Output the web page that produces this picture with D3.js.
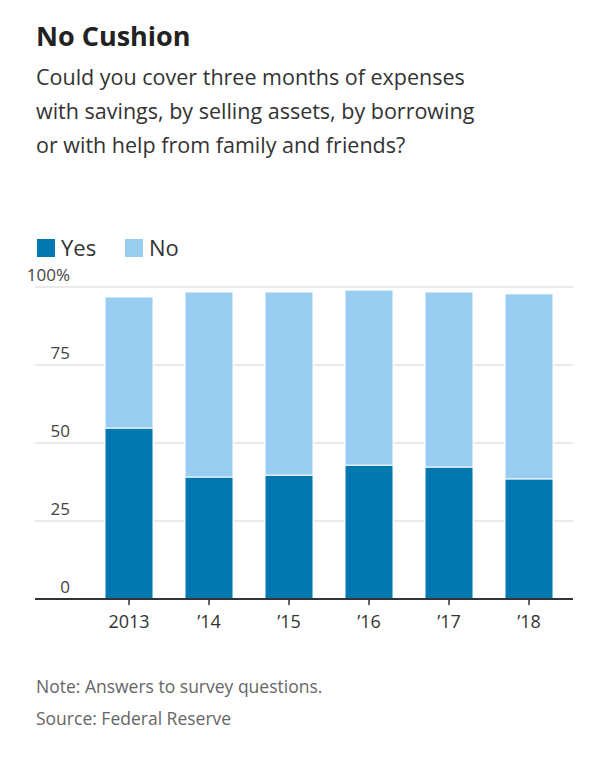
<!DOCTYPE html>
<html><head><meta charset="utf-8">
<script src="https://cdn.jsdelivr.net/npm/d3@7"></script>
<style>body{margin:0;background:#fff;font-family:"Open Sans",sans-serif;}</style>
</head><body><svg id="c" width="607" height="772"></svg>
<script>
const categories = ["2013","’14","’15","’16","’17","’18"];
const yesValues = [54.8, 39.1, 39.7, 42.9, 42.3, 38.5];
const noValues = [42.0, 59.3, 58.7, 56.1, 56.1, 59.3];
const yTicks = [0, 25, 50, 75, 100];
const seriesNames = ["Yes","No"];
const colors = ["#0077ae","#99cdef"];

const svg = d3.select("#c");
const x = d3.scaleBand().domain(categories).range([89, 569]).paddingInner(0.4).paddingOuter(0.2);
const y = d3.scaleLinear().domain([0,100]).range([599, 287]);

svg.append("text").attr("x",36).attr("y",46).attr("font-size",27).attr("font-weight",700).attr("fill","#222").text("No Cushion");
["Could you cover three months of expenses","with savings, by selling assets, by borrowing","or with help from family and friends?"].forEach((t,i)=>
  svg.append("text").attr("x",36).attr("y",85+i*34).attr("font-size",21.5).attr("fill","#333").text(t));

// legend
seriesNames.forEach((n,i)=>{
  const lx = [37,125][i];
  svg.append("rect").attr("x",lx).attr("y",239).attr("width",18).attr("height",18).attr("fill",colors[i]);
  svg.append("text").attr("x",lx+24).attr("y",256).attr("font-size",22).attr("fill","#333").text(n);
});

// grid
yTicks.forEach(t=>{
  if(t>0) svg.append("line").attr("x1",35).attr("x2",573).attr("y1",y(t)).attr("y2",y(t)).attr("stroke","#e3e3e3").attr("stroke-width",1.5);
  svg.append("text").attr("x",70).attr("y",y(t)-6).attr("text-anchor","end").attr("font-size",17).attr("fill","#444")
    .text(t===100?"100":t).append("tspan").text(t===100?"%":"");
});

const stack = d3.stack().keys([0,1]).value((d,k)=>k===0?d.yes:d.no);
const data = categories.map((c,i)=>({c, yes:yesValues[i], no:noValues[i]}));
const series = stack(data);
series.forEach((s,k)=>{
  svg.append("g").selectAll("rect").data(s).join("rect")
    .attr("x",d=>x(d.data.c)).attr("width",x.bandwidth())
    .attr("y",d=>y(d[1])).attr("height",d=>y(d[0])-y(d[1]))
    .attr("fill",colors[k]).attr("stroke","#fff").attr("stroke-width",1);
});

const ax = svg.append("g").attr("transform","translate(0,599)")
  .call(d3.axisBottom(x).tickSize(6).tickSizeOuter(0));
ax.select(".domain").remove();
ax.selectAll(".tick line").attr("stroke","#333").attr("stroke-width",1.5);
ax.selectAll(".tick text").attr("font-size",18).attr("fill","#333").attr("dy","1.1em").attr("font-family","Open Sans");
svg.append("line").attr("x1",35).attr("x2",573).attr("y1",599).attr("y2",599).attr("stroke","#333").attr("stroke-width",2);

svg.append("text").attr("x",36).attr("y",693).attr("font-size",17.5).attr("fill","#666").text("Note: Answers to survey questions.");
svg.append("text").attr("x",36).attr("y",725).attr("font-size",17.5).attr("fill","#666").text("Source: Federal Reserve");
</script></body></html>
